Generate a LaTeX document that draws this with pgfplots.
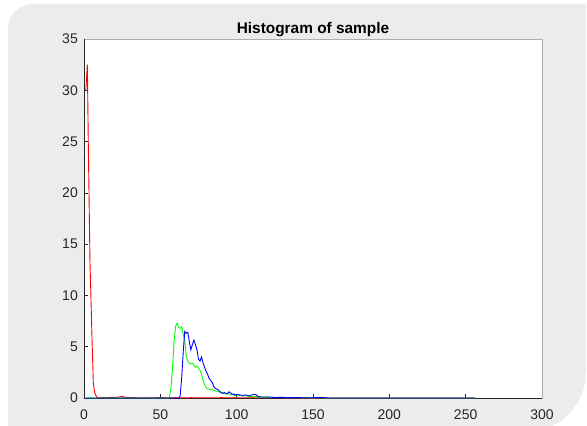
\documentclass[border=0pt]{standalone}
\usepackage{pgfplots}
\pgfplotsset{compat=1.18}
\usepackage{fontspec}
\setmainfont{Liberation Sans}
\definecolor{figgray}{RGB}{236,236,236}
\definecolor{axdark}{RGB}{38,38,38}
\definecolor{axlight}{RGB}{175,175,175}
\definecolor{pr}{RGB}{255,0,0}
\definecolor{pg}{RGB}{0,255,0}
\definecolor{pb}{RGB}{0,0,255}
\begin{document}
\begin{tikzpicture}[x=1pt,y=1pt]
\path[use as bounding box, fill=white] (0,0) rectangle (587,426);
\fill[figgray] (8,-6) -- (8,397) arc[start angle=180,end angle=90,radius=25] -- (586,422) -- (586,54) arc[start angle=0,end angle=-90,radius=60] -- cycle;
\begin{axis}[at={(84pt,28pt)}, anchor=south west, scale only axis,
  width=458pt, height=359pt,
  xmin=0, xmax=300, ymin=0, ymax=35,
  xtick={0,50,...,300}, ytick={0,5,...,35},
  axis background/.style={fill=white},
  axis line style={draw=axlight, line width=0.6pt},
  tick align=inside, xtick pos=left, ytick pos=left,
  major tick length=4pt,
  tick style={axdark, line width=0.6pt},
  /pgf/number format/assume math mode=true,
  ticklabel style={font=\fontsize{14}{16}\selectfont, text=axdark},
  xticklabel style={anchor=base, yshift=-22pt, inner sep=0pt},
  yticklabel style={anchor=east, xshift=-6pt, inner sep=0pt},
  clip=false]
\draw[axdark, line width=0.6pt] (rel axis cs:0,1) -- (rel axis cs:0,0) -- (rel axis cs:1,0);
\addplot[pr, line width=0.9pt] coordinates {
(1.2,30) (2.2,32.5) (2.8,25) (3.9,13.4) (4.6,9.5) (5.3,5.5) (6.1,1.5) (7,0.5) (8.5,0.05) (10,0.02)
(12,0.04) (14,0.02) (16,0.05) (18,0.03) (20,0.06) (22,0.08) (24,0.12) (25,0.16) (26,0.12)
(27,0.06) (29,0.03) (32,0.05) (35,0.02) (40,0.03) (45,0.02) (50,0.04) (55,0.02) (60,0.03)
(65,0.02) (70,0.03) (80,0.02) (90,0.03) (100,0.02) (110,0.03) (120,0.02) (130,0.02) (140,0.01) (145,0) (256,0)};
\addplot[pg, line width=0.9pt] coordinates {
(1,0) (55,0) (56,0.1) (57,1) (58,3) (59,5.5) (60,7) (61,7.3) (62,6.9) (63,6.8) (64,6.95)
(65,6.2) (66,5.6) (67,4) (68,3.6) (69,3.4) (70,3.3) (71,3.4) (72,3.2) (73,3.0) (74,3.1)
(75,2.9) (76,2.7) (77,2.3) (78,1.7) (79,1.3) (80,1.0) (81,0.9) (82,0.85) (83,0.8) (84,0.8)
(85,0.75) (86,0.7) (87,0.65) (88,0.6) (89,0.62) (90,0.55) (91,0.45) (92,0.5) (93,0.4)
(94,0.45) (95,0.35) (96,0.3) (97,0.35) (98,0.3) (99,0.25) (100,0.3) (102,0.25) (104,0.2)
(106,0.22) (108,0.15) (110,0.12) (112,0.15) (115,0.1) (120,0.08) (125,0.05) (130,0.06)
(135,0.03) (140,0.02) (145,0.05) (150,0.01) (155,0.03) (160,0) (256,0)};
\addplot[pb, line width=0.9pt] coordinates {
(1,0) (62,0) (63,0.2) (64,2) (65,4.5) (66,6.5) (67,6.3) (68,6.4) (69,5.5) (70,4.7) (71,5.2)
(72,5.65) (73,5.2) (74,4.7) (75,3.8) (76,3.6) (77,4.0) (78,3.4) (79,3.0) (80,2.6) (81,2.3)
(82,1.9) (83,1.7) (84,1.5) (85,1.1) (86,0.95) (87,0.85) (88,0.8) (89,0.6) (90,0.5) (91,0.45)
(92,0.55) (93,0.4) (94,0.45) (95,0.6) (96,0.5) (97,0.35) (98,0.4) (99,0.3) (100,0.35)
(102,0.3) (104,0.25) (106,0.3) (108,0.2) (110,0.3) (112,0.35) (113,0.3) (114,0.15) (116,0.1)
(120,0.1) (125,0.05) (130,0.06) (135,0.03) (140,0.04) (145,0.02) (150,0.03) (155,0.06) (160,0) (256,0)};
\node[anchor=base, font=\fontsize{15.4}{18}\selectfont\bfseries, text=black] at (rel axis cs:0.5,1) [yshift=5pt] {Histogram of sample};
\end{axis}
\end{tikzpicture}
\end{document}
